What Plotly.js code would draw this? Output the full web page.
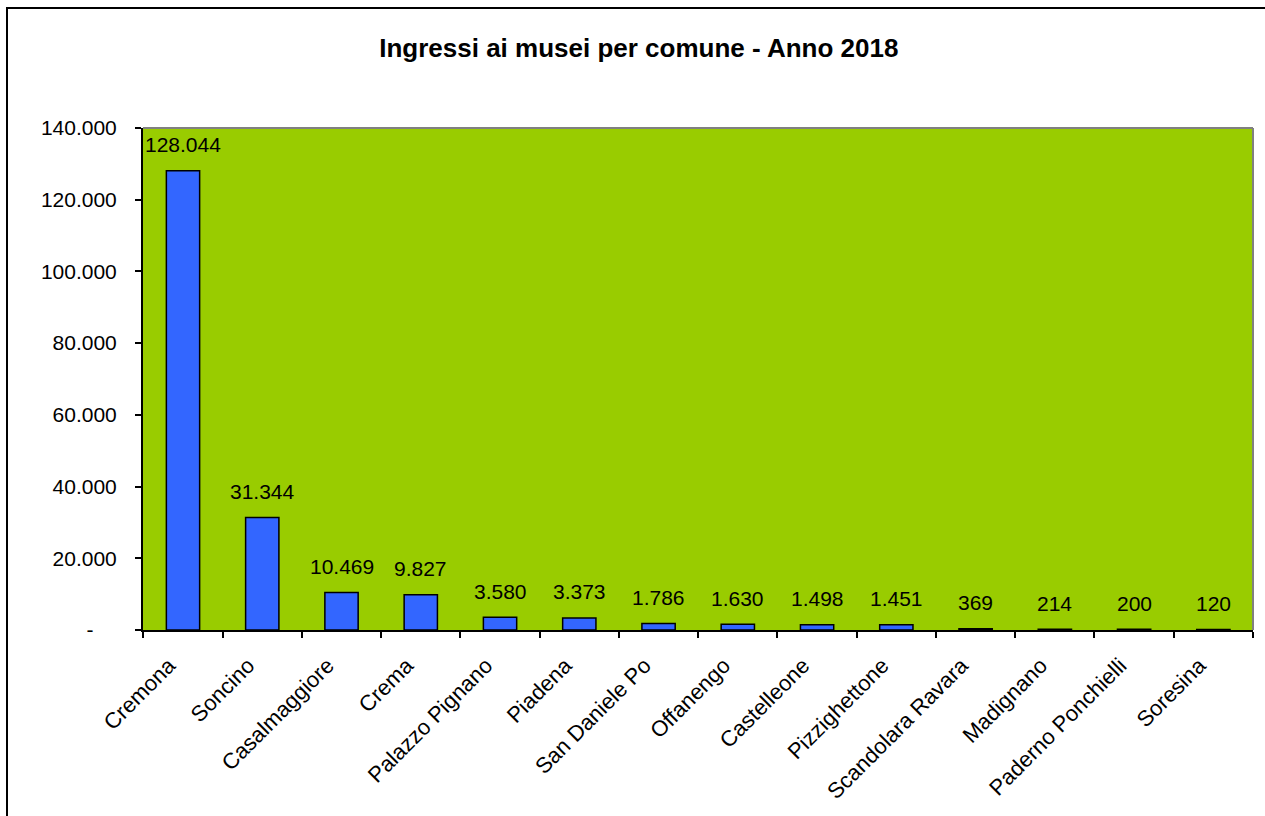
<!DOCTYPE html>
<html>
<head>
<meta charset="utf-8">
<script src="https://cdn.plot.ly/plotly-3.0.1.min.js"></script>
<style>
  html, body { margin: 0; padding: 0; background: #ffffff; overflow: hidden; }
  #frame { position: absolute; left: 6px; top: 7px; width: 1300px; height: 900px; border: 2px solid #000; box-sizing: border-box; }
  #chart { position: absolute; left: 0; top: 0; width: 1265px; height: 816px; }
</style>
</head>
<body>
<div id="frame"></div>
<div id="chart"></div>
<script>
const comuni = ["Cremona", "Soncino", "Casalmaggiore", "Crema", "Palazzo Pignano", "Piadena",
  "San Daniele Po", "Offanengo", "Castelleone", "Pizzighettone", "Scandolara Ravara",
  "Madignano", "Paderno Ponchielli", "Soresina"];
const ingressi = [128044, 31344, 10469, 9827, 3580, 3373, 1786, 1630, 1498, 1451, 369, 214, 200, 120];
const yTickVals = [0, 20000, 40000, 60000, 80000, 100000, 120000, 140000];
const yTickText = ["-\u00a0\u00a0\u00a0\u00a0", "20.000", "40.000", "60.000", "80.000", "100.000", "120.000", "140.000"];
const titolo = "Ingressi ai musei per comune - Anno 2018";

const font = "Liberation Sans, Arial, sans-serif";

function fmt(v) {
  return String(v).replace(/\B(?=(\d{3})+(?!\d))/g, ".");
}

const trace = {
  type: "bar",
  x: comuni,
  y: ingressi,
  marker: { color: "#3366FF", line: { color: "#000000", width: 1.5 } },
  hoverinfo: "x+y"
};

const valueLabels = comuni.map((c, i) => ({
  x: c,
  y: ingressi[i],
  xref: "x",
  yref: "y",
  text: fmt(ingressi[i]),
  showarrow: false,
  xanchor: "center",
  yanchor: "middle",
  yshift: 26,
  font: { family: font, size: 21, color: "#000000" }
}));

const layout = {
  width: 1265,
  height: 816,
  paper_bgcolor: "rgba(0,0,0,0)",
  plot_bgcolor: "#99CC00",
  margin: { l: 143, r: 12, t: 128, b: 186 },
  bargap: 0.58,
  showlegend: false,
  title: {
    text: "<b>" + titolo + "</b>",
    font: { family: font, size: 26, color: "#000000" },
    x: 0.505, xanchor: "center",
    y: 0.941, yanchor: "middle"
  },
  xaxis: {
    type: "category",
    tickangle: -45,
    ticks: "outside",
    tickson: "boundaries",
    ticklen: 6,
    tickwidth: 2,
    tickcolor: "#000000",
    showline: true,
    linecolor: "#000000",
    linewidth: 2,
    showgrid: false,
    ticklabelstandoff: 12,
    ticklabelshift: -14,
    tickfont: { family: font, size: 22, color: "#000000" }
  },
  yaxis: {
    range: [0, 140000],
    tickvals: yTickVals,
    ticktext: yTickText,
    ticks: "outside",
    ticklen: 6,
    tickwidth: 2,
    tickcolor: "#000000",
    showline: true,
    linecolor: "#000000",
    linewidth: 2,
    showgrid: false,
    zeroline: false,
    ticklabelstandoff: 14,
    tickfont: { family: font, size: 21, color: "#000000" }
  },
  annotations: valueLabels,
  shapes: [
    { type: "line", xref: "paper", yref: "paper", x0: 0, x1: 1, y0: 1, y1: 1, line: { color: "#808080", width: 2 } },
    { type: "line", xref: "paper", yref: "paper", x0: 1, x1: 1, y0: 0, y1: 1, line: { color: "#808080", width: 2 } }
  ]
};

Plotly.newPlot("chart", [trace], layout, { displayModeBar: false, staticPlot: true });
</script>
</body>
</html>
